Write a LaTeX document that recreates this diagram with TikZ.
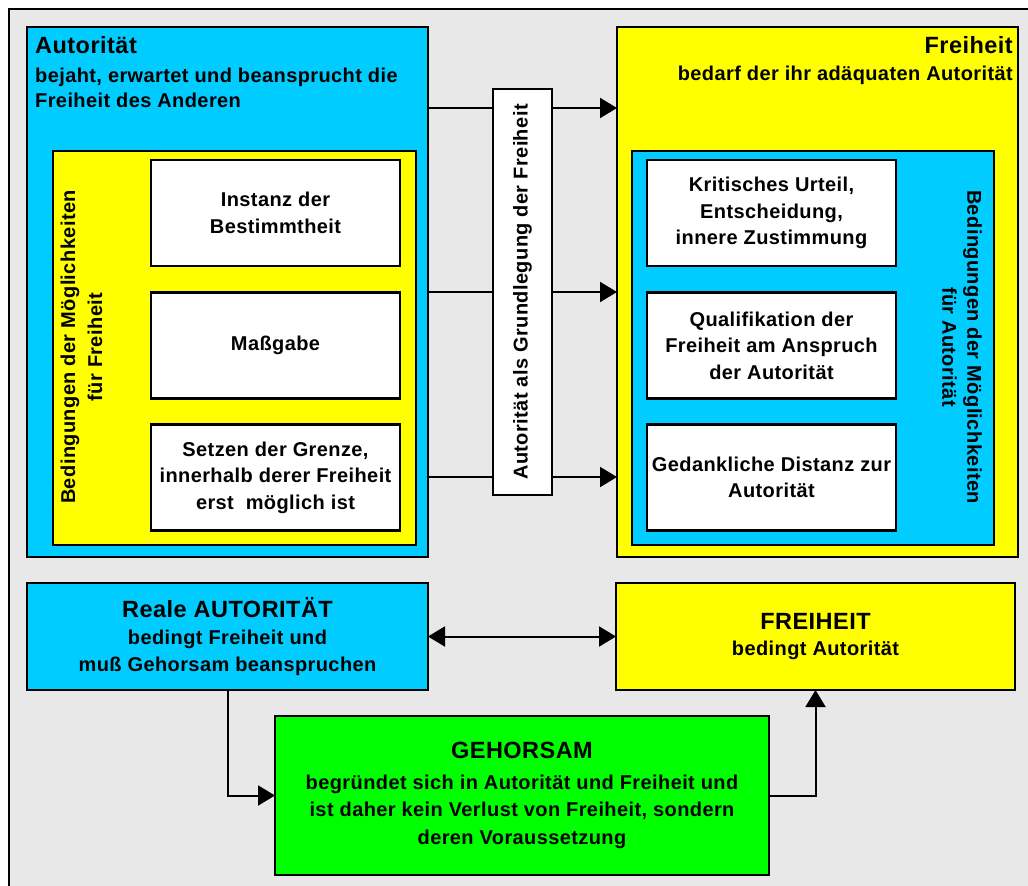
\documentclass[tikz,border=0pt]{standalone}
\usepackage{fontspec}
\setmainfont[LetterSpace=2.0]{Liberation Sans}
\usetikzlibrary{arrows.meta,calc}
\definecolor{bgc}{RGB}{232,232,232}
\definecolor{cyanc}{RGB}{0,204,255}
\definecolor{yellc}{RGB}{255,255,0}
\definecolor{greenc}{RGB}{0,255,0}
\begin{document}
\begin{tikzpicture}[x=1pt,y=-1pt,
  frame/.style={draw=black, line width=2.6pt, rectangle, inner sep=0pt, outer sep=0pt},
  wbox/.style={frame, fill=white, minimum width=249pt, minimum height=106pt, align=center, font=\bfseries\fontsize{20}{26.5}\selectfont},
  txt/.style={inner sep=0pt, font=\bfseries\fontsize{20}{25}\selectfont},
  ttl/.style={inner sep=0pt, font=\bfseries\fontsize{23.5}{28}\selectfont},
  arr/.style={line width=2pt, -{Triangle[length=17pt,width=20pt]}},
  darr/.style={line width=2pt, {Triangle[length=17pt,width=20pt]}-{Triangle[length=17pt,width=20pt]}},
]
\useasboundingbox (0,0) rectangle (1028,886);
\clip (0,0) rectangle (1028,886);
\draw[line width=2.6pt, fill=bgc] (9,9) rectangle (1060,920);

% upper left: Autoritaet
\node[frame, fill=cyanc, minimum width=401pt, minimum height=530pt] (aut) at (227.5,292) {};
\node[frame, fill=yellc, minimum width=363pt, minimum height=394pt] (autin) at (234.5,348) {};
\node[wbox] (l1) at (275.5,213) {Instanz der\\Bestimmtheit};
\node[wbox] (l2) at (275.5,345.5) {Maßgabe};
\node[wbox] (l3) at (275.5,477.5) {Setzen der Grenze,\\innerhalb derer Freiheit\\erst\ \ möglich ist};
\node[txt, rotate=90, align=center, font=\bfseries\fontsize{20}{27}\selectfont] (lcond) at (81.5,347) {Bedingungen der Möglichkeiten\\für Freiheit};
\node[ttl, anchor=base west] (auttitle) at (35,53) {Autorität};
\node[txt, anchor=base west] (autl1) at (35,82) {bejaht, erwartet und beansprucht die};
\node[txt, anchor=base west] (autl2) at (35,107) {Freiheit des Anderen};

% upper right: Freiheit
\node[frame, fill=yellc, minimum width=401pt, minimum height=530pt] (frei) at (817.5,292) {};
\node[frame, fill=cyanc, minimum width=362pt, minimum height=394pt] (freiin) at (813,348) {};
\node[wbox] (r1) at (771.5,213) {Kritisches Urteil,\\Entscheidung,\\innere Zustimmung};
\node[wbox] (r2) at (771.5,345.5) {Qualifikation der\\Freiheit am Anspruch\\der Autorität};
\node[wbox] (r3) at (771.5,477.5) {Gedankliche Distanz zur\\Autorität};
\node[txt, rotate=-90, align=center, font=\bfseries\fontsize{20}{25}\selectfont] (rcond) at (962,347) {Bedingungen der Möglichkeiten\\für Autorität};
\node[ttl, anchor=base east] (freititle) at (1013,53) {Freiheit};
\node[txt, anchor=base east] (freil1) at (1013,80) {bedarf der ihr adäquaten Autorität};

% arrows between upper boxes
\coordinate (ya) at (0,108);
\coordinate (yb) at (0,292);
\coordinate (yc) at (0,477);
\draw[arr] (aut.east |- ya) -- (frei.west |- ya);
\draw[arr] (aut.east |- yb) -- (frei.west |- yb);
\draw[arr] (aut.east |- yc) -- (frei.west |- yc);
\node[frame, fill=white, rotate=90, minimum width=406pt, minimum height=59pt, font=\bfseries\fontsize{20}{25}\selectfont] (mid) at (522.5,292) {Autorität als Grundlegung der Freiheit};

% lower part
\node[frame, fill=cyanc, minimum width=401pt, minimum height=107pt, align=center, font=\bfseries\fontsize{20}{27}\selectfont] (real) at (227.5,636.5) {{\fontsize{23.5}{27}\selectfont Reale AUTORITÄT}\\bedingt Freiheit und\\muß Gehorsam beanspruchen};
\node[frame, fill=yellc, minimum width=399pt, minimum height=107pt, align=center, font=\bfseries\fontsize{20}{26}\selectfont] (frei2) at (815.5,636.5) {{\fontsize{23.5}{26}\selectfont FREIHEIT}\\bedingt Autorität};
\node[frame, fill=greenc, minimum width=494pt, minimum height=159pt, align=center, font=\bfseries\fontsize{20}{27.5}\selectfont] (geh) at (522,795.5) {{\fontsize{23.5}{27.5}\selectfont GEHORSAM}\\[3pt]begründet sich in Autorität und Freiheit und\\ist daher kein Verlust von Freiheit, sondern\\deren Voraussetzung};

\draw[darr] (real.east) -- (frei2.west);
\draw[arr] (real.south) |- (geh.west);
\draw[arr] (geh.east) -| (frei2.south);
\end{tikzpicture}
\end{document}
